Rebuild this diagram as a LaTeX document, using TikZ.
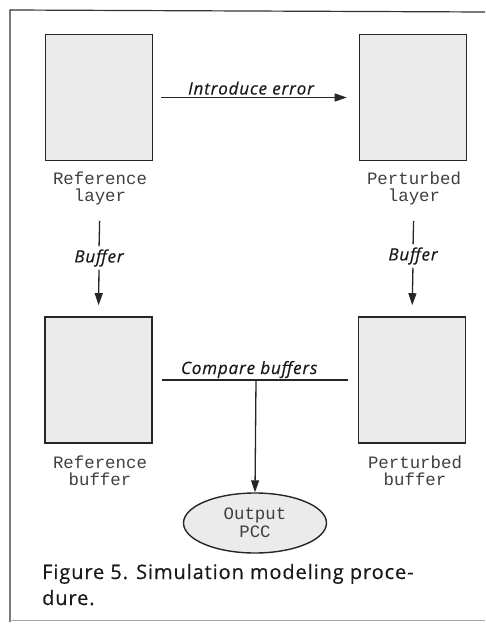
\documentclass[tikz,border=0pt]{standalone}
\usepackage{fontspec}
\setmainfont{Open Sans}
\setmonofont{Liberation Mono}
\newfontfamily\labelfont[LetterSpace=5,FakeBold=0.4]{Open Sans}
\newfontfamily\captionfont[LetterSpace=4.5,FakeBold=0.4]{Open Sans}
\usetikzlibrary{arrows.meta,shapes.geometric}
\tikzset{
  layerbox/.style={draw=black!85, line width=1.6pt, fill=black!8,
    minimum width=107pt, minimum height=126pt, inner sep=0pt},
  tlabel/.style={font=\fontsize{17.4}{17}\selectfont\ttfamily, text=black!75,
    align=center, inner sep=0pt},
  ilabel/.style={font=\fontsize{17}{19}\selectfont\labelfont\itshape, text=black!90, inner sep=0pt},
  conn/.style={line width=1.3pt, draw=black!85},
  arr/.style={conn, -{Triangle[length=12pt,width=8pt]}},
}
\begin{document}
\begin{tikzpicture}[x=1pt,y=-1pt]
\useasboundingbox (0,0) rectangle (485,626);
% frame
\draw[line width=1.2pt, black!80] (10,622) -- (10,10) -- (485,12);
\draw[line width=0.6pt, black!35] (10,620) -- (485,620);

% layers and buffers
\node[layerbox] (rl) at (99,97.5) {};
\node[layerbox] (pl) at (413,97.5) {};
\node[layerbox] (rb) at (98.5,380) {};
\node[layerbox] (pb) at (412,380) {};

\node[tlabel] (rllab) at (100,188) {Reference\\layer};
\node[tlabel] (pllab) at (414,188) {Perturbed\\layer};
\node[tlabel] (rblab) at (100,471) {Reference\\buffer};
\node[tlabel] (pblab) at (415,471) {Perturbed\\buffer};

% introduce error
\draw[arr, shorten <=8pt, shorten >=12pt] (rl) -- (pl)
  node[ilabel, midway, anchor=base, yshift=3pt, xshift=-5pt] {Introduce error};

% buffering
\node[ilabel] (buf1) at (99,258) {Buffer};
\node[ilabel] (buf2) at (413,256) {Buffer};
\draw[conn, shorten <=16pt, shorten >=3pt] (rllab.south) -- (buf1.north);
\draw[arr, shorten <=3pt, shorten >=11pt] (buf1.south) -- (rb.north);
\draw[conn, shorten <=16pt, shorten >=3pt] (pllab.south) -- (buf2.north);
\draw[arr, shorten <=3pt, shorten >=11pt] (buf2.south) -- (pb.north);

% comparison
\node[ellipse, draw=black!85, line width=1.4pt, fill=black!8,
  minimum width=143pt, minimum height=60pt, inner sep=0pt,
  font=\fontsize{17.4}{18}\selectfont\ttfamily, text=black!75, align=center]
  (out) at (255,523) {Output\\PCC};
\coordinate (cm) at (256,380);
\draw[conn] ([xshift=9pt]rb.east |- cm) -- ([xshift=-10pt]pb.west |- cm)
  node[ilabel, pos=0.47, anchor=base, yshift=6pt] {Compare buffers};
\draw[arr] (cm) -- (out.north);

% caption
\node[anchor=base west, align=left, inner sep=0pt, text=black!90,
  font=\fontsize{20}{26}\selectfont\captionfont] (cap) at (42,605)
  {Figure 5. Simulation modeling proce-\\dure.};
\end{tikzpicture}
\end{document}
